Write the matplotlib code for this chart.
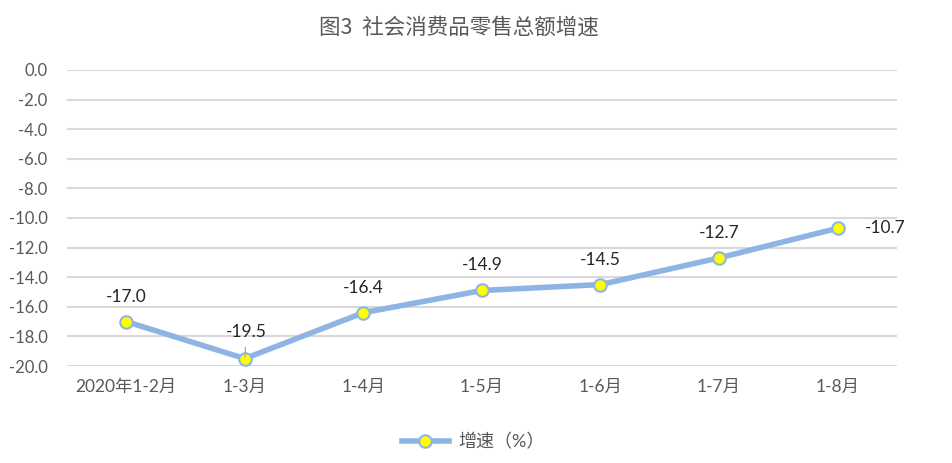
import matplotlib
matplotlib.use("Agg")
import matplotlib.pyplot as plt

plt.rcParams['font.family'] = ['Lato', 'Noto Sans CJK SC', 'DejaVu Sans']

# dane
categories = ['2020年1-2月', '1-3月', '1-4月', '1-5月', '1-6月', '1-7月', '1-8月']
growth = [-17.0, -19.5, -16.4, -14.9, -14.5, -12.7, -10.7]
yticks = [0, -2, -4, -6, -8, -10, -12, -14, -16, -18, -20]

text_color = '#595959'
line_color = '#8EB4E3'

fig = plt.figure(figsize=(9.52, 4.63), dpi=100)
ax = fig.add_axes([0.0704, 0.2095, 0.8716, 0.6395])

x = list(range(len(categories)))
ax.plot(x, growth, color=line_color, linewidth=4, marker='o', markersize=9,
        markerfacecolor='#FFFF00', markeredgecolor=line_color, markeredgewidth=1.5,
        label='增速（%）', zorder=3)

# etykiety danych
for i, v in enumerate(growth):
    if i == len(growth) - 1:
        ax.annotate(f'{v:.1f}', (i, v), xytext=(20, 0), textcoords='offset points',
                    ha='left', va='center', fontsize=12.5, color='#262626')
    elif i == 1:
        ax.annotate(f'{v:.1f}', (i, v), xytext=(1, 19), textcoords='offset points',
                    ha='center', va='center', fontsize=12.5, color='#262626',
                    arrowprops=dict(arrowstyle='-', color='#a6a6a6', lw=0.9,
                                    shrinkA=3, shrinkB=1), zorder=4)
    else:
        ax.annotate(f'{v:.1f}', (i, v), xytext=(0, 18), textcoords='offset points',
                    ha='center', va='center', fontsize=12.5, color='#262626')

ax.set_xlim(-0.5, len(categories) - 0.5)
ax.set_ylim(-20, 0)
ax.set_yticks(yticks)
ax.set_yticklabels([f'{t:.1f}' for t in yticks])
ax.set_xticks(x)
ax.set_xticklabels(categories)
ax.tick_params(axis='y', length=0, pad=14, labelsize=12, labelcolor=text_color)
ax.tick_params(axis='x', length=0, pad=9, labelsize=12.5, labelcolor=text_color)
ax.grid(axis='y', color='#d9d9d9', linewidth=1.5)
ax.set_axisbelow(True)
for s in ax.spines.values():
    s.set_visible(False)

fig.text(0.482, 0.94, '图3  社会消费品零售总额增速', ha='center', va='center',
         fontsize=15.5, color=text_color, family=['Noto Sans CJK SC', 'DejaVu Sans'])

fig.legend(loc='center', bbox_to_anchor=(0.497, 0.046), frameon=False,
           fontsize=13, labelcolor=text_color, handlelength=2.6,
           handletextpad=0.5)

fig.savefig('out.png', dpi=100)
